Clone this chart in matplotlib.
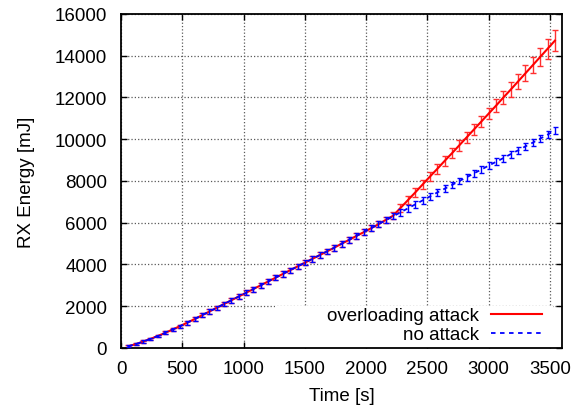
import numpy as np
import matplotlib
matplotlib.use("Agg")
import matplotlib.pyplot as plt
from matplotlib.patches import Rectangle

plt.rcParams['font.family'] = ['Liberation Sans', 'DejaVu Sans']

# time stamps [s]
time_s = [60, 120, 180, 240, 300, 360, 420, 480, 540, 600,
          660, 720, 780, 840, 900, 960, 1020, 1080, 1140, 1200,
          1260, 1320, 1380, 1440, 1500, 1560, 1620, 1680, 1740, 1800,
          1860, 1920, 1980, 2040, 2100, 2160, 2220, 2280, 2340, 2400,
          2460, 2520, 2580, 2640, 2700, 2760, 2820, 2880, 2940, 3000,
          3060, 3120, 3180, 3240, 3300, 3360, 3420, 3480, 3540]

# no attack
noatk_mean = [80, 180, 300, 430, 570, 720, 880, 1040, 1210, 1380,
              1560, 1740, 1920, 2100, 2280, 2460, 2640, 2820, 3000, 3180,
              3360, 3540, 3720, 3900, 4080, 4260, 4440, 4620, 4800, 4990,
              5170, 5360, 5540, 5730, 5920, 6110, 6300, 6490, 6680, 6870,
              7060, 7250, 7440, 7620, 7800, 7990, 8170, 8360, 8540, 8730,
              8910, 9090, 9280, 9460, 9650, 9830, 10020, 10210, 10410]
noatk_err = [40, 50, 60, 60, 70, 70, 80, 80, 90, 90,
             100, 100, 100, 110, 110, 110, 120, 120, 120, 120,
             130, 130, 130, 130, 130, 140, 140, 140, 140, 140,
             140, 140, 150, 150, 150, 150, 150, 150, 150, 150,
             150, 160, 160, 160, 160, 160, 160, 160, 160, 170,
             170, 170, 170, 170, 170, 170, 170, 180, 180]

# overloading attack
ovl_mean = [80, 180, 300, 430, 570, 720, 880, 1040, 1210, 1380,
            1560, 1740, 1920, 2100, 2280, 2460, 2640, 2820, 3000, 3180,
            3360, 3540, 3720, 3900, 4080, 4260, 4440, 4620, 4800, 4990,
            5170, 5360, 5540, 5730, 5920, 6130, 6330, 6700, 7070, 7440,
            7820, 8200, 8570, 8950, 9320, 9700, 10080, 10460, 10840, 11220,
            11600, 11990, 12370, 12760, 13150, 13540, 13930, 14320, 14710]
ovl_err = [40, 50, 60, 60, 70, 70, 80, 80, 90, 90,
           100, 100, 100, 110, 110, 110, 120, 120, 120, 120,
           130, 130, 130, 130, 130, 140, 140, 140, 140, 140,
           140, 140, 150, 150, 150, 160, 170, 180, 190, 200,
           210, 220, 230, 240, 250, 250, 260, 270, 270, 280,
           300, 320, 340, 360, 380, 400, 430, 470, 500]

fig = plt.figure(figsize=(5.82, 4.10), dpi=100)
ax = fig.add_axes([0.208, 0.149, 0.758, 0.815])

ovl = ax.errorbar(time_s, ovl_mean, yerr=ovl_err, color='red', ecolor='#ff3030',
                  lw=1.5, elinewidth=1.0, capsize=2.2, capthick=1.0, zorder=2)
noatk = ax.errorbar(time_s, noatk_mean, yerr=noatk_err, color='blue', ecolor='blue',
                    lw=1.3, ls=(0, (2.5, 2.5)), elinewidth=1.0, capsize=1.8,
                    capthick=1.0, zorder=3)

ax.set_xlim(0, 3600)
ax.set_ylim(0, 16000)
ax.set_xticks(np.arange(0, 3501, 500))
ax.set_yticks(np.arange(0, 16001, 2000))
ax.set_axisbelow(True)
ax.grid(True, color='0.35', ls=':', lw=0.9)
ax.tick_params(direction='in', length=4, width=1, labelsize=13.5,
               top=True, right=True, pad=9)
ax.tick_params(axis='y', pad=10)
for sp in ax.spines.values():
    sp.set_linewidth(1.3)

ax.set_xlabel('Time [s]', fontsize=13.5, labelpad=7)
ax.set_ylabel('RX Energy [mJ]', fontsize=13.5, labelpad=14)

# white key area hiding the grid
ax.add_patch(Rectangle((0.349, 0.0), 0.629, 0.126, transform=ax.transAxes,
                       facecolor='white', edgecolor='none', zorder=1))

leg = ax.legend([ovl.lines[0], noatk.lines[0]], ['overloading attack', 'no attack'],
                loc='lower right', markerfirst=False, frameon=False,
                fontsize=13.5, handlelength=2.72, handletextpad=0.64,
                labelspacing=0.1, borderaxespad=0.0,
                bbox_to_anchor=(0.971, -0.009))

fig.savefig('out.png', dpi=100)
